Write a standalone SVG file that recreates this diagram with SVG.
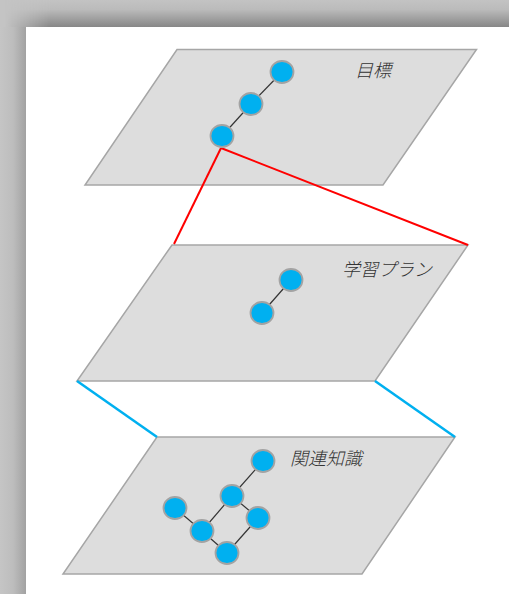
<svg xmlns="http://www.w3.org/2000/svg" width="509" height="594" viewBox="0 0 509 594">
  <defs>
    <linearGradient id="shadeTop" x1="0" y1="0" x2="0" y2="27" gradientUnits="userSpaceOnUse">
      <stop offset="0" stop-color="#c3c3c3"/>
      <stop offset="0.35" stop-color="#bbbbbb"/>
      <stop offset="1" stop-color="#878787"/>
    </linearGradient>
    <linearGradient id="shadeLeft" x1="0" y1="0" x2="26" y2="0" gradientUnits="userSpaceOnUse">
      <stop offset="0" stop-color="#c5c5c5"/>
      <stop offset="0.5" stop-color="#bdbdbd"/>
      <stop offset="1" stop-color="#a2a2a2"/>
    </linearGradient>
    <linearGradient id="fadeIn" x1="0" y1="0" x2="50" y2="0" gradientUnits="userSpaceOnUse">
      <stop offset="0.1" stop-color="#fff" stop-opacity="0"/>
      <stop offset="1" stop-color="#fff" stop-opacity="1"/>
    </linearGradient>
    <mask id="topMask">
      <rect x="0" y="0" width="509" height="27" fill="url(#fadeIn)"/>
    </mask>
    <filter id="soft" x="-20%" y="-20%" width="140%" height="140%">
      <feGaussianBlur stdDeviation="0.5"/>
    </filter>
  </defs>
  <style>
    .plane { fill: #dddddd; stroke: #a6a6a6; stroke-width: 1.5; }
    .node { fill: #00b0f0; stroke: #a3a3a3; stroke-width: 1.8; }
    .link { stroke: #333333; stroke-width: 1.2; fill: none; }
    .red { stroke: #ff0000; stroke-width: 2; fill: none; }
    .blue { stroke: #00b0f0; stroke-width: 2.5; fill: none; }
    .label { font-family: "Noto Sans CJK JP", "Noto Sans", sans-serif; font-size: 18px; font-style: italic; font-weight: 300; fill: #333333; }
  </style>

  <!-- page frame with its shadow -->
  <rect x="0" y="0" width="509" height="594" fill="#c4c4c4"/>
  <rect x="0" y="0" width="509" height="27" fill="url(#shadeTop)" mask="url(#topMask)"/>
  <rect x="0" y="27" width="26" height="567" fill="url(#shadeLeft)"/>
  <rect x="26" y="27" width="483" height="567" fill="#ffffff"/>

  <!-- layers -->
  <g id="layer-goal">
    <polygon class="plane" points="177,49.5 476.5,49.5 383,185 85,185"/>
    <text class="label" x="355" y="77">目標</text>
  </g>
  <g id="layer-plan">
    <polygon class="plane" points="172,245 468,245 375,381 77,381"/>
    <text class="label" x="342" y="276">学習プラン</text>
  </g>
  <g id="layer-knowledge">
    <polygon class="plane" points="157,437 455,437 362,574 63,574"/>
    <text class="label" x="290" y="465">関連知識</text>
  </g>

  <!-- connectors -->
  <g id="connectors">
    <line class="red" x1="221" y1="148" x2="174" y2="244"/>
    <line class="red" x1="221" y1="148" x2="468" y2="245"/>
    <line class="blue" x1="77" y1="381" x2="157" y2="437"/>
    <line class="blue" x1="375" y1="381" x2="455" y2="437"/>

    <line class="link" x1="282" y1="72" x2="251" y2="104"/>
    <line class="link" x1="251" y1="104" x2="222" y2="136"/>

    <line class="link" x1="291" y1="280" x2="262" y2="313"/>

    <line class="link" x1="263" y1="461" x2="232" y2="496"/>
    <line class="link" x1="232" y1="496" x2="202" y2="531"/>
    <line class="link" x1="175" y1="508" x2="202" y2="531"/>
    <line class="link" x1="232" y1="496" x2="258" y2="518"/>
    <line class="link" x1="258" y1="518" x2="227" y2="553"/>
    <line class="link" x1="202" y1="531" x2="227" y2="553"/>
  </g>

  <!-- nodes -->
  <g id="goal-nodes" filter="url(#soft)">
    <g id="g1"><ellipse class="node" cx="282" cy="72" rx="11.5" ry="11"/></g>
    <g id="g2"><ellipse class="node" cx="251" cy="104" rx="11.5" ry="11"/></g>
    <g id="g3"><ellipse class="node" cx="222" cy="136" rx="11.5" ry="11"/></g>
  </g>
  <g id="plan-nodes" filter="url(#soft)">
    <g id="p1"><ellipse class="node" cx="291" cy="280" rx="11.5" ry="11"/></g>
    <g id="p2"><ellipse class="node" cx="262" cy="313" rx="11.5" ry="11"/></g>
  </g>
  <g id="knowledge-nodes" filter="url(#soft)">
    <g id="k1"><ellipse class="node" cx="263" cy="461" rx="11.5" ry="11"/></g>
    <g id="k2"><ellipse class="node" cx="232" cy="496" rx="11.5" ry="11"/></g>
    <g id="k3"><ellipse class="node" cx="175" cy="508" rx="11.5" ry="11"/></g>
    <g id="k4"><ellipse class="node" cx="258" cy="518" rx="11.5" ry="11"/></g>
    <g id="k5"><ellipse class="node" cx="202" cy="531" rx="11.5" ry="11"/></g>
    <g id="k6"><ellipse class="node" cx="227" cy="553" rx="11.5" ry="11"/></g>
  </g>
</svg>
